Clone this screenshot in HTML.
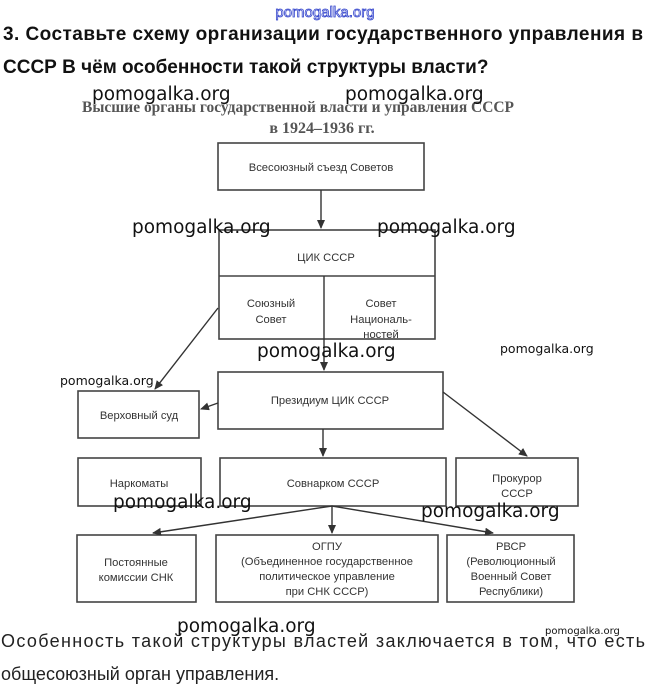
<!DOCTYPE html>
<html><head><meta charset="utf-8"><style>
html,body{margin:0;padding:0;background:#fff;}
body{width:648px;height:685px;overflow:hidden;position:relative;}
svg{position:absolute;left:0;top:0;}
</style></head><body>
<svg width="648" height="685" viewBox="0 0 648 685" xmlns="http://www.w3.org/2000/svg">
<defs>
<marker id="a" markerWidth="10" markerHeight="10" refX="8" refY="4" orient="auto" markerUnits="userSpaceOnUse">
<path d="M0,0 L9,4 L0,8 Z" fill="#333"/>
</marker>
</defs>
<g font-family="'Liberation Sans','DejaVu Sans',sans-serif">
<text x="325" y="17" font-size="15" fill="#fff" stroke="#3344cc" stroke-width="0.8" text-anchor="middle">pomogalka.org</text>
<text x="3" y="40" font-size="19" font-weight="bold" fill="#111" textLength="640" lengthAdjust="spacing">3. Составьте схему организации государственного управления в</text>
<text x="3" y="73" font-size="19" font-weight="bold" fill="#111">СССР В чём особенности такой структуры власти?</text>
</g>
<g font-family="'Liberation Serif',serif" font-weight="bold" fill="#555" text-anchor="middle">
<text x="298" y="112" font-size="16" textLength="432" lengthAdjust="spacingAndGlyphs">Высшие органы государственной власти и управления СССР</text>
<text x="322" y="133" font-size="16">в 1924–1936 гг.</text>
</g>
<g fill="none" stroke="#444" stroke-width="1.6">
<rect x="218" y="143" width="206" height="47"/>
<rect x="219" y="230" width="216" height="109"/>
<line x1="219" y1="276" x2="435" y2="276"/>
<rect x="218" y="372" width="225" height="57"/>
<rect x="78" y="391" width="121" height="47"/>
<rect x="78" y="458" width="123" height="48"/>
<rect x="220" y="458" width="226" height="48"/>
<rect x="456" y="458" width="122" height="48"/>
<rect x="77" y="535" width="119" height="67"/>
<rect x="216" y="535" width="222" height="67"/>
<rect x="447" y="535" width="127" height="67"/>
</g>
<g stroke="#333" stroke-width="1.4" fill="none" marker-end="url(#a)">
<line x1="321" y1="190" x2="321" y2="228"/>
<line x1="324" y1="276" x2="324" y2="370"/>
<line x1="218" y1="308" x2="155" y2="389"/>
<line x1="218" y1="403" x2="201" y2="409"/>
<line x1="443" y1="392" x2="527" y2="456"/>
<line x1="323" y1="429" x2="323" y2="456"/>
<line x1="332" y1="506" x2="153" y2="533"/>
<line x1="332" y1="506" x2="332" y2="533"/>
<line x1="332" y1="506" x2="493" y2="533"/>
</g>
<g font-family="'Liberation Sans','DejaVu Sans',sans-serif" font-size="11.2" fill="#333" text-anchor="middle">
<text x="321" y="171">Всесоюзный съезд Советов</text>
<text x="326" y="261">ЦИК СССР</text>
<text x="271" y="307">Союзный</text><text x="271" y="323">Совет</text>
<text x="381" y="307">Совет</text><text x="381" y="323">Националь-</text><text x="381" y="338">ностей</text>
<text x="330" y="404">Президиум ЦИК СССР</text>
<text x="139" y="419">Верховный суд</text>
<text x="139" y="487">Наркоматы</text>
<text x="333" y="487">Совнарком СССР</text>
<text x="517" y="482">Прокурор</text><text x="517" y="497">СССР</text>
<text x="136" y="566">Постоянные</text><text x="136" y="581">комиссии СНК</text>
<text x="327" y="550">ОГПУ</text>
<text x="327" y="565">(Объединенное государственное</text>
<text x="327" y="580">политическое управление</text>
<text x="327" y="595">при СНК СССР)</text>
<text x="511" y="550">РВСР</text>
<text x="511" y="565">(Революционный</text>
<text x="511" y="580">Военный Совет</text>
<text x="511" y="595">Республики)</text>
</g>
<g font-family="'DejaVu Sans','Liberation Sans',sans-serif" fill="#111">
<text x="92" y="100" font-size="18.5">pomogalka.org</text>
<text x="345" y="100" font-size="18.5">pomogalka.org</text>
<text x="132" y="233" font-size="18.5">pomogalka.org</text>
<text x="377" y="233" font-size="18.5">pomogalka.org</text>
<text x="257" y="357" font-size="18.5">pomogalka.org</text>
<text x="500" y="353" font-size="12.5">pomogalka.org</text>
<text x="60" y="385" font-size="12.5">pomogalka.org</text>
<text x="113" y="508" font-size="18.5">pomogalka.org</text>
<text x="421" y="517" font-size="18.5">pomogalka.org</text>
<text x="177" y="632" font-size="18.5">pomogalka.org</text>
<text x="545" y="634" font-size="10">pomogalka.org</text>
</g>
<g font-family="'Liberation Sans','DejaVu Sans',sans-serif" font-size="18" fill="#222">
<text x="1" y="647" textLength="644" lengthAdjust="spacing">Особенность такой структуры властей заключается в том, что есть</text>
<text x="1" y="680">общесоюзный орган управления.</text>
</g>
</svg>
</body></html>
